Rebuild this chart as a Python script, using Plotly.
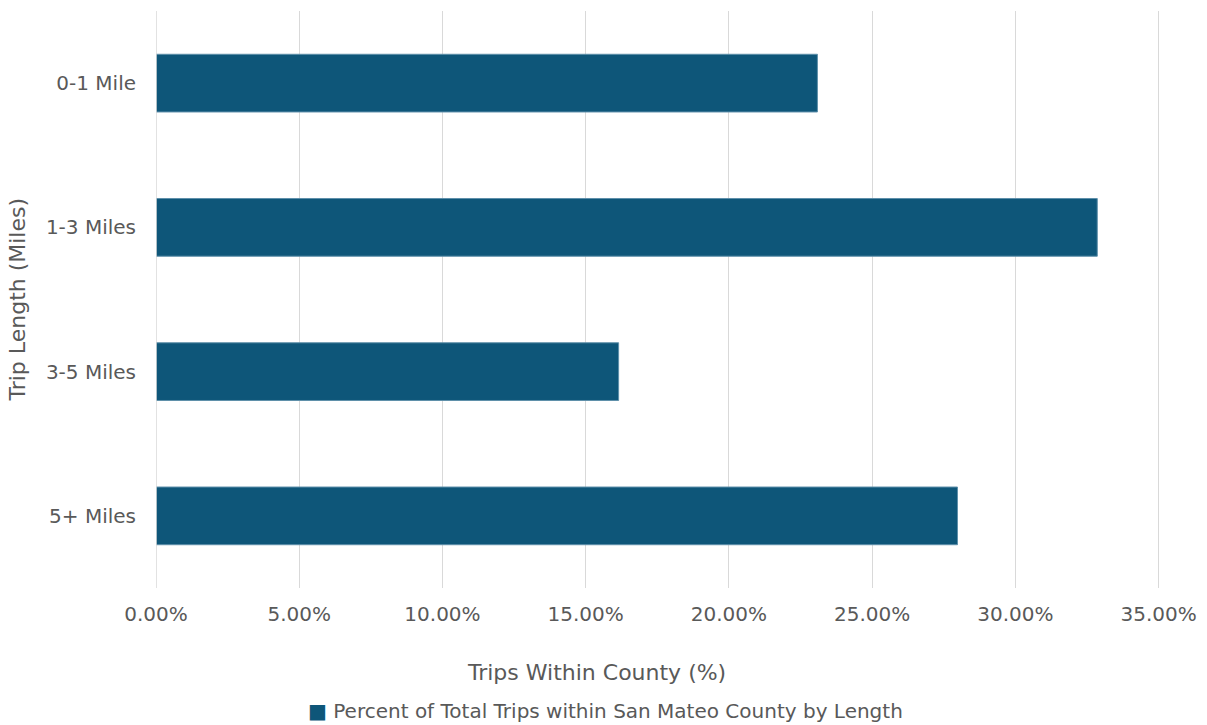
import plotly.graph_objects as go

categories = ["0-1 Mile", "1-3 Miles", "3-5 Miles", "5+ Miles"]
percent_trips = [23.09, 32.86, 16.15, 27.98]
x_ticks = [0, 5, 10, 15, 20, 25, 30, 35]
x_tick_labels = ["0.00%", "5.00%", "10.00%", "15.00%", "20.00%", "25.00%", "30.00%", "35.00%"]
series_name = "Percent of Total Trips within San Mateo County by Length"

W, H = 1207, 725
FONT = "DejaVu Sans, Verdana, sans-serif"
TEXT = "#595959"
BAR = "#0E5679"

fig = go.Figure(
    go.Bar(
        y=categories,
        x=percent_trips,
        orientation="h",
        name=series_name,
        width=0.4,
        marker=dict(color=BAR, line=dict(color="#5E8FAA", width=1)),
        showlegend=False,
    )
)

fig.update_layout(
    width=W,
    height=H,
    margin=dict(l=156, r=47, t=11, b=137),
    paper_bgcolor="white",
    plot_bgcolor="white",
    font=dict(family=FONT, color=TEXT, size=20),
    xaxis=dict(
        range=[0, 35.05],
        tickvals=x_ticks,
        ticktext=x_tick_labels,
        showgrid=True,
        gridcolor="#D9D9D9",
        gridwidth=1,
        zeroline=False,
        showline=False,
        ticks="",
        ticklabelstandoff=12,
        tickfont=dict(size=20, color=TEXT),
    ),
    yaxis=dict(
        categoryorder="array",
        categoryarray=categories[::-1],
        showgrid=False,
        zeroline=False,
        showline=False,
        ticks="",
        ticklabelstandoff=19,
        tickfont=dict(size=20, color=TEXT),
    ),
    annotations=[
        dict(
            text="Trips Within County (%)",
            xref="paper", yref="paper",
            x=(596 - 156) / (W - 156 - 47), y=-(672 - 588) / (588 - 11),
            xanchor="center", yanchor="middle",
            showarrow=False, font=dict(size=22, color=TEXT),
        ),
        dict(
            text="Trip Length (Miles)",
            xref="paper", yref="paper",
            x=-(156 - 17) / (W - 156 - 47), y=0.5,
            xanchor="center", yanchor="middle", textangle=-90,
            showarrow=False, font=dict(size=22, color=TEXT),
        ),
        # series key below the axis title
        dict(
            text=f"<span style='color:{BAR}'>■</span> {series_name}",
            xref="paper", yref="paper",
            x=(605 - 156) / (W - 156 - 47), y=-(711 - 588) / (588 - 11),
            xanchor="center", yanchor="middle",
            showarrow=False, font=dict(size=20, color=TEXT),
        ),
    ],
)

# vertical axis line along the zero edge
fig.add_shape(type="line", xref="x", yref="paper", x0=0, x1=0, y0=0, y1=1,
              line=dict(color="#D9D9D9", width=1.5))

fig.write_html("out.html")
